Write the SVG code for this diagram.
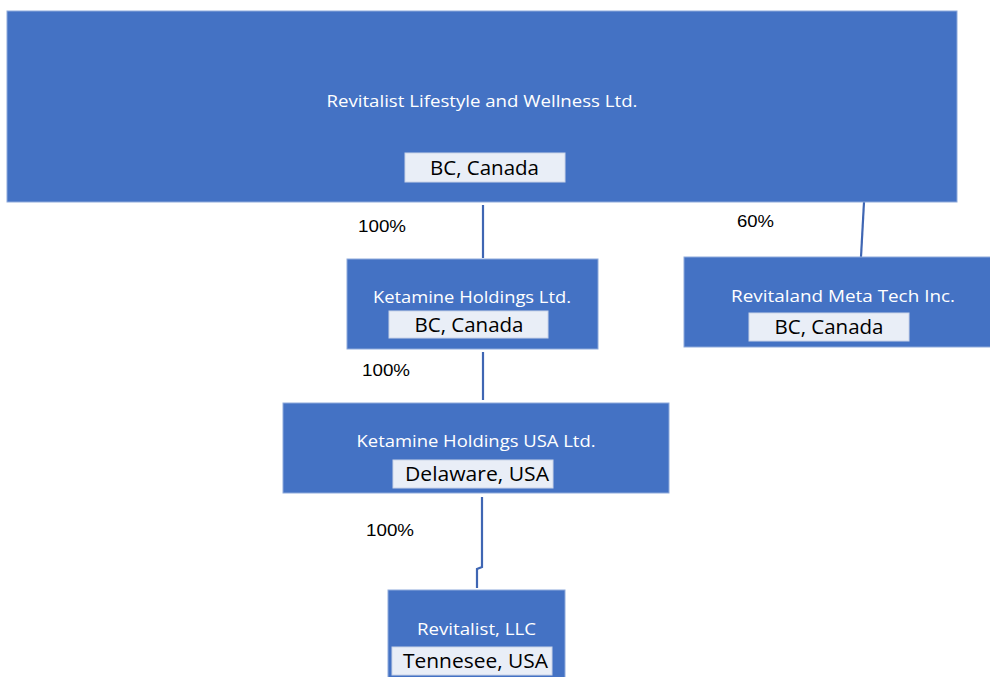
<svg xmlns="http://www.w3.org/2000/svg" width="990" height="677" viewBox="0 0 990 677">
<style>
.box{fill:#4472C4;stroke:#8eaadb;stroke-width:1}
.tag{fill:#E9EEF7;stroke:#c9d3e8;stroke-width:1}
.t{font-family:"Open Sans","Liberation Sans",sans-serif;font-size:17px;fill:#ffffff;text-anchor:middle}
.l{font-family:"Open Sans","Liberation Sans",sans-serif;font-size:20px;fill:#000000;text-anchor:middle}
.p{font-family:"Liberation Sans","Open Sans",sans-serif;font-size:16px;fill:#000000}
.c{fill:none;stroke:#3f66b3;stroke-width:2.2}
</style>
<rect width="990" height="677" fill="#ffffff"/>
<g id="connectors">
<line class="c" x1="483" y1="205" x2="483" y2="258"/>
<line class="c" x1="864" y1="202" x2="861" y2="257"/>
<line class="c" x1="483" y1="352" x2="483" y2="400"/>
<polyline class="c" points="482,497 482,567 477,569 477,588"/>
<text class="p" x="358" y="232" textLength="48" lengthAdjust="spacingAndGlyphs">100%</text>
<text class="p" x="737" y="227" textLength="37" lengthAdjust="spacingAndGlyphs">60%</text>
<text class="p" x="362" y="376" textLength="48" lengthAdjust="spacingAndGlyphs">100%</text>
<text class="p" x="366" y="536" textLength="48" lengthAdjust="spacingAndGlyphs">100%</text>
</g>
<g id="revitalist-lifestyle">
<rect class="box" x="7" y="11" width="950" height="191"/>
<text class="t" x="482" y="107" textLength="311" lengthAdjust="spacingAndGlyphs">Revitalist Lifestyle and Wellness Ltd.</text>
<rect class="tag" x="405" y="153" width="160" height="29"/>
<text class="l" x="484.5" y="175" textLength="109" lengthAdjust="spacingAndGlyphs">BC, Canada</text>
</g>
<g id="ketamine-holdings">
<rect class="box" x="347" y="259" width="251" height="90"/>
<text class="t" x="472" y="303" textLength="198" lengthAdjust="spacingAndGlyphs">Ketamine Holdings Ltd.</text>
<rect class="tag" x="389" y="311" width="159" height="27"/>
<text class="l" x="469" y="332" textLength="109" lengthAdjust="spacingAndGlyphs">BC, Canada</text>
</g>
<g id="revitaland-meta">
<rect class="box" x="684" y="257" width="310" height="90"/>
<text class="t" x="843" y="302" textLength="224" lengthAdjust="spacingAndGlyphs">Revitaland Meta Tech Inc.</text>
<rect class="tag" x="749" y="313" width="160" height="28"/>
<text class="l" x="829" y="334" textLength="109" lengthAdjust="spacingAndGlyphs">BC, Canada</text>
</g>
<g id="ketamine-holdings-usa">
<rect class="box" x="283" y="403" width="386" height="90"/>
<text class="t" x="476" y="447" textLength="239" lengthAdjust="spacingAndGlyphs">Ketamine Holdings USA Ltd.</text>
<rect class="tag" x="393" y="460" width="160" height="28"/>
<text class="l" x="477" y="481" textLength="144" lengthAdjust="spacingAndGlyphs">Delaware, USA</text>
</g>
<g id="revitalist-llc">
<rect class="box" x="388" y="590" width="177" height="92"/>
<text class="t" x="476.5" y="635" textLength="119" lengthAdjust="spacingAndGlyphs">Revitalist, LLC</text>
<rect class="tag" x="392" y="647" width="160" height="28"/>
<text class="l" x="475.5" y="668" textLength="145" lengthAdjust="spacingAndGlyphs">Tennesee, USA</text>
</g>
</svg>
